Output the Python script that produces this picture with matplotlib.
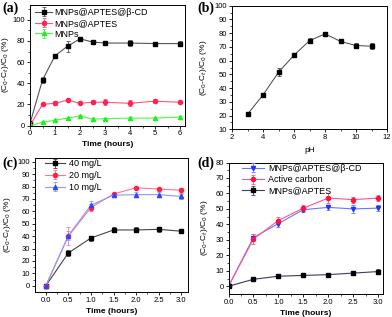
import numpy as np
import matplotlib.pyplot as plt

plt.rcParams['font.family'] = ['Liberation Sans', 'DejaVu Sans']
plt.rcParams['font.size'] = 5.5

# (a) adsorption vs time for three materials
t_a = [0, 0.5, 1, 1.5, 2, 2.5, 3, 4, 5, 6]
cd_a = [2, 43, 66, 75, 82, 79, 78, 78, 77.5, 77.5]
cd_a_err = [0, 3, 2, 5, 1, 2, 2, 3, 1.5, 2.5]
aptes_a = [0, 20, 21, 24, 21, 22, 22, 21, 23, 22]
aptes_a_err = [0, 1, 2, 1, 1, 2, 3, 3, 2, 1]
mnp_a = [0, 3, 5, 7, 9, 6, 6.5, 7, 7, 8]
mnp_a_err = [0, 1, 1, 1, 1, 1, 1, 1, 1, 1]

# (b) effect of pH
ph = [3, 4, 5, 6, 7, 8, 9, 10, 11]
ph_val = [21, 35, 51.5, 64, 74.5, 79.5, 74, 71, 70.5]
ph_err = [1.5, 1.5, 3, 1, 2, 1.5, 0.5, 1.5, 2]

# (c) effect of initial concentration
t_c = [0, 0.5, 1, 1.5, 2, 2.5, 3]
c40 = [0, 26.5, 38.5, 45, 45, 45.5, 44]
c40_err = [0, 2.5, 2, 2, 2, 2, 1.5]
c20 = [0, 40, 63, 74, 79, 78, 77]
c20_err = [0, 7, 3, 1, 1, 1, 2]
c10 = [0, 40.5, 65, 73, 73.5, 73.5, 72]
c10_err = [0, 3.5, 3, 1, 2, 2, 2]

# (d) comparison with active carbon
t_d = [0, 0.5, 1, 1.5, 2, 2.5, 3]
cd_d = [0, 31.5, 40.5, 49.5, 51, 50, 50.5]
cd_d_err = [0, 2, 2, 1.5, 1.5, 2.5, 2]
ac_d = [0, 30.5, 42.5, 50.5, 57, 56, 57]
ac_d_err = [0, 3, 2.5, 2, 3, 2, 2]
aptes_d = [0, 4.5, 6.5, 7, 7.5, 8.5, 9.5]
aptes_d_err = [0, 0.5, 1, 1, 1, 1, 1.5]

W, H = 392, 317
fig = plt.figure(figsize=(W / 100, H / 100), dpi=100)


def box(l, t, r, b):
    return [l / W, 1 - b / H, (r - l) / W, (b - t) / H]


ylab = '(C$_0$-C$_t$)/C$_0$ (%)'


def style(ax):
    ax.tick_params(direction='out', length=2.2, width=0.6, pad=1.2, labelsize=5.5)
    ax.tick_params(which='minor', direction='out', length=1.2, width=0.5)
    for s in ax.spines.values():
        s.set_linewidth(0.7)


def labels(ax, xl, xpad=2, ypad=2):
    ax.set_xlabel(xl, labelpad=xpad, fontsize=6, weight='bold')
    ax.set_ylabel(ylab, labelpad=ypad, fontsize=6)


def series(ax, x, y, e, color, marker, label, lcolor=None):
    ax.errorbar(x, y, yerr=e, color=lcolor or color, marker=marker, ms=3,
                mfc=color, mec=color, lw=0.8, elinewidth=0.6, capsize=1.5,
                capthick=0.6, label=label)


def panel_tag(x, y, s):
    fig.text(x / W, 1 - y / H, s, family='Liberation Serif', weight='bold',
             fontsize=10)


# panel a
ax = fig.add_axes(box(30, 5, 185, 125.5))
series(ax, t_a, cd_a, cd_a_err, 'black', 's', 'MNPs@APTES@β-CD', '#555555')
series(ax, t_a, aptes_a, aptes_a_err, '#ff2255', 'o', 'MNPs@APTES', '#ff5577')
series(ax, t_a, mnp_a, mnp_a_err, '#22ee22', '^', 'MNPs', '#44ff44')
ax.set_xlim(0, 6.2)
ax.set_ylim(0, 114)
ax.set_xticks(range(7))
ax.set_xticks(np.arange(0, 6.2, 0.5), minor=True)
ax.set_yticks(range(0, 101, 20))
ax.set_yticks(range(0, 111, 10), minor=True)
labels(ax, 'Time (hours)', 3, 1.5)
ax.legend(loc='upper left', bbox_to_anchor=(0.0, 1.02), frameon=False,
          fontsize=6.5, handlelength=1.8, handletextpad=0.3, labelspacing=0.2,
          borderpad=0.1)
style(ax)
panel_tag(2, 12, '(a)')

# panel b
ax = fig.add_axes(box(232, 5.7, 387, 129.3))
ax.errorbar(ph, ph_val, yerr=ph_err, color='#444444', marker='s', ms=3,
            mfc='black', mec='black', lw=0.7, elinewidth=0.6, capsize=1.5,
            capthick=0.6)
ax.set_xlim(2, 12)
ax.set_ylim(10, 100)
ax.set_xticks(range(2, 13, 2))
ax.set_xticks(range(2, 13, 1), minor=True)
ax.set_yticks(range(10, 101, 10))
ax.set_yticks(range(10, 101, 5), minor=True)
labels(ax, 'pH', 4, 4)
ax.xaxis.label.set_weight('normal')
style(ax)
panel_tag(197, 12, '(b)')

# panel c
ax = fig.add_axes(box(34.5, 158, 188, 292))
series(ax, t_c, c40, c40_err, 'black', 's', '40 mg/L', '#444444')
series(ax, t_c, c20, c20_err, '#ff2244', 'o', '20 mg/L', '#ff7788')
series(ax, t_c, c10, c10_err, '#3344ff', '^', '10 mg/L', '#8899ff')
ax.set_xlim(-0.25, 3.15)
ax.set_ylim(-5, 103)
ax.set_xticks(np.arange(0, 3.01, 0.5))
ax.set_xticks(np.arange(0, 3.01, 0.25), minor=True)
ax.set_yticks(range(0, 101, 10))
ax.set_yticks(range(0, 101, 5), minor=True)
labels(ax, 'Time (hours)', 3, 3)
ax.legend(loc='upper left', bbox_to_anchor=(0.03, 1.03), frameon=False,
          fontsize=6.5, handlelength=2.3, handletextpad=0.4, labelspacing=0.3,
          borderpad=0.1)
style(ax)
panel_tag(2, 167, '(c)')

# panel d
ax = fig.add_axes(box(228.5, 162.5, 383, 294))
series(ax, t_d, cd_d, cd_d_err, '#2233ff', 'v', 'MNPs@APTES@β-CD', '#6677ff')
series(ax, t_d, ac_d, ac_d_err, '#ff1144', 'o', 'Active carbon', '#ff5588')
series(ax, t_d, aptes_d, aptes_d_err, 'black', 's', 'MNPs@APTES', '#3a3a6a')
ax.set_xlim(0, 3.1)
ax.set_ylim(-5, 80)
ax.set_xticks(np.arange(0, 3.01, 0.5))
ax.set_xticks(np.arange(0, 3.01, 0.25), minor=True)
ax.set_yticks(range(0, 81, 10))
ax.set_yticks(range(0, 81, 5), minor=True)
labels(ax, 'Time (hours)', 3, 4)
ax.legend(loc='upper left', bbox_to_anchor=(0.05, 1.03), frameon=False,
          fontsize=6.5, handlelength=2.5, handletextpad=0.4, labelspacing=0.25,
          borderpad=0.1)
style(ax)
panel_tag(197, 167, '(d)')

fig.savefig('out.png', dpi=100)
